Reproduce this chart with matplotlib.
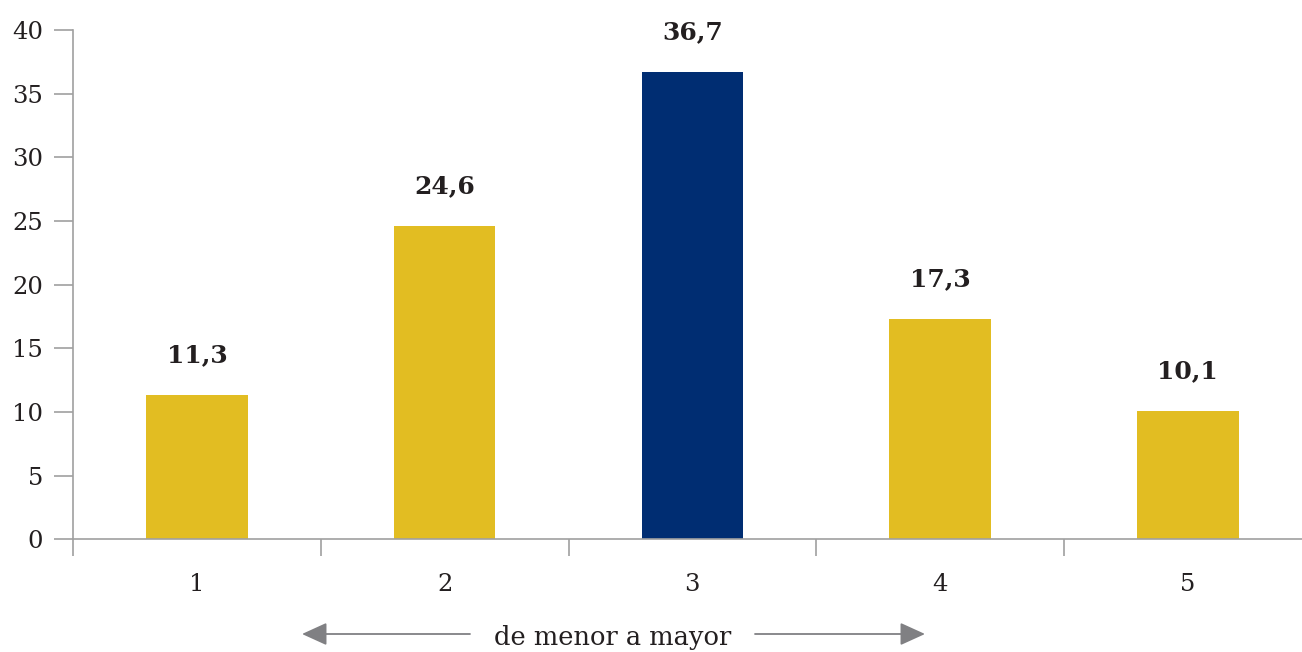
import matplotlib
matplotlib.use("Agg")
import matplotlib.pyplot as plt
from matplotlib.ticker import FixedLocator

categories = ["1", "2", "3", "4", "5"]
values = [11.3, 24.6, 36.7, 17.3, 10.1]
value_labels = ["11,3", "24,6", "36,7", "17,3", "10,1"]
highlight = 2
yticks = [0, 5, 10, 15, 20, 25, 30, 35, 40]
axis_caption = "de menor a mayor"

YELLOW = "#E2BD22"
NAVY = "#002D72"
GRAY = "#A0A0A0"
TXT = "#231F20"

plt.rcParams["font.family"] = ["DejaVu Serif"]

fig = plt.figure(figsize=(13.02, 6.52), dpi=100)
W, H = 1302, 652
ax = fig.add_axes([73 / W, 1 - 539.3 / H, (1311.75 - 73) / W, (539.3 - 30) / H])

x = list(range(1, len(categories) + 1))
colors = [NAVY if i == highlight else YELLOW for i in range(len(values))]
ax.bar(x, values, width=0.41, color=colors, zorder=2)

for xi, v, lab in zip(x, values, value_labels):
    ax.annotate(lab, (xi, v), xytext=(0, 20), textcoords="offset points",
                ha="center", va="bottom", fontsize=18, fontweight="bold", color=TXT)

ax.set_xlim(0.5, len(categories) + 0.5)
ax.set_ylim(0, 40)
ax.set_yticks(yticks)
ax.set_yticklabels([str(t) for t in yticks])
ax.set_xticks(x)
ax.set_xticklabels(categories)
ax.xaxis.set_minor_locator(FixedLocator([i + 0.5 for i in range(len(categories) + 1)]))

for s in ["top", "right"]:
    ax.spines[s].set_visible(False)
for s in ["left", "bottom"]:
    ax.spines[s].set_color(GRAY)
    ax.spines[s].set_linewidth(1.2)
    ax.spines[s].set_zorder(3)

ax.tick_params(axis="y", direction="out", length=13.5, width=1.2, color=GRAY,
               pad=8, labelsize=17.5, labelcolor=TXT)
ax.tick_params(axis="x", which="major", length=0, pad=24, labelsize=17.5, labelcolor=TXT)
ax.tick_params(axis="x", which="minor", direction="out", length=12.5, width=1.2, color=GRAY)

# caption with arrows
cy = 1 - 634 / H
fig.text(613 / W, 1 - 638 / H, axis_caption, ha="center", va="center",
         fontsize=18.5, color=TXT)
arrow_kw = dict(arrowstyle="-|>,head_length=1.1,head_width=0.5", color="#808083",
                lw=1.3, shrinkA=0, shrinkB=0)
fig.add_artist(matplotlib.patches.FancyArrowPatch((470 / W, cy), (302 / W, cy),
               transform=fig.transFigure, mutation_scale=14, **arrow_kw))
fig.add_artist(matplotlib.patches.FancyArrowPatch((755 / W, cy), (925 / W, cy),
               transform=fig.transFigure, mutation_scale=14, **arrow_kw))

fig.savefig("out.png", dpi=100)
